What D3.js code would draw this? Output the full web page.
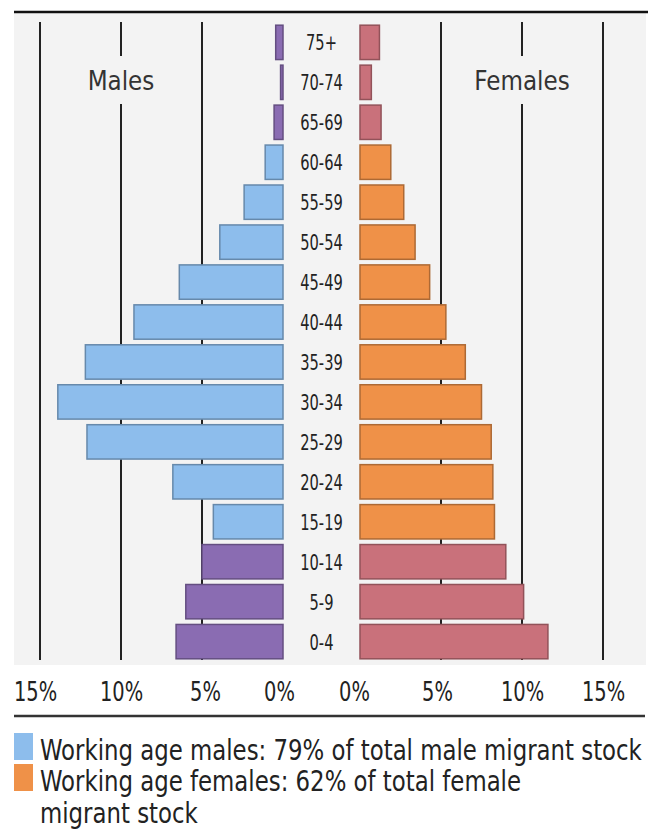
<!DOCTYPE html>
<html lang="en">
<head>
  <meta charset="UTF-8">
  <title>Migrant stock by age and sex</title>
  <style>
    body {
      margin: 0;
      background: #fff;
      font-family: 'Liberation Sans Narrow', 'DejaVu Sans Condensed', 'Roboto', sans-serif;
    }
    .age { font-size: 22px; fill: #222; text-anchor: middle; }
    .side { font-size: 27px; fill: #333; text-anchor: middle; }
    .tick text { font-size: 27px; fill: #222; font-family: 'Liberation Sans Narrow', 'DejaVu Sans Condensed', sans-serif; }
    .legend { font-size: 28px; fill: #222; }
    .grid { stroke: #222; stroke-width: 2px; }
    .bar { stroke-width: 1.5px; }
  </style>
  <script src="https://d3js.org/d3.v7.min.js"></script>
</head>
<body>
<svg width="648" height="840"></svg>
<script>
  const ages = ['75+', '70-74', '65-69', '60-64', '55-59', '50-54', '45-49', '40-44',
    '35-39', '30-34', '25-29', '20-24', '15-19', '10-14', '5-9', '0-4'];
  const males = [0.45, 0.15, 0.55, 1.1, 2.4, 3.9, 6.4, 9.2, 12.2, 13.9, 12.1, 6.8, 4.3, 5.0, 6.0, 6.6];
  const females = [1.2, 0.7, 1.3, 1.9, 2.7, 3.4, 4.3, 5.3, 6.5, 7.5, 8.1, 8.2, 8.3, 9.0, 10.1, 11.6];
  const working = ['15-19', '20-24', '25-29', '30-34', '35-39', '40-44', '45-49', '50-54', '55-59', '60-64'];
  const pctTicks = [0, 5, 10, 15];
  const legendLines = [
    ['Working age males: 79% of total male migrant stock'],
    ['Working age females: 62% of total female', 'migrant stock']
  ];

  const svg = d3.select('svg');

  const xL = d3.scaleLinear().domain([0, 15]).range([283, 40]);
  const xR = d3.scaleLinear().domain([0, 15]).range([360, 603]);
  const y = d3.scaleBand().domain(ages).range([24, 660]).paddingInner(0.14).paddingOuter(0.03);

  const colour = {
    mWork: '#8dbdec', mOther: '#8a6cb2',
    fWork: '#ef9148', fOther: '#c9717b'
  };
  const strokeOf = c => d3.color(c).darker(0.9);

  // squeeze text horizontally, the original uses a condensed face
  function condense(sel, k) {
    sel.each(function () {
      const w = this.getComputedTextLength();
      d3.select(this).attr('textLength', w * k).attr('lengthAdjust', 'spacingAndGlyphs');
    });
  }

  // plot background + top rule
  svg.append('rect').attr('x', 14).attr('y', 13).attr('width', 632).attr('height', 652).attr('fill', '#f3f3f3');
  svg.append('line').attr('x1', 14).attr('x2', 648).attr('y1', 12).attr('y2', 12)
    .attr('stroke', '#111').attr('stroke-width', 2.5);

  // gridlines (with gaps behind the side titles)
  const grid = svg.append('g');
  const gridSeg = (x, gap) => {
    const segs = gap ? [[22, 56], [104, 660]] : [[22, 660]];
    segs.forEach(s => grid.append('line').attr('class', 'grid')
      .attr('x1', x).attr('x2', x).attr('y1', s[0]).attr('y2', s[1]));
  };
  pctTicks.filter(t => t > 0).forEach(t => {
    gridSeg(xL(t), t === 10);
    gridSeg(xR(t), t === 10);
  });

  const sides = svg.append('g');
  sides.append('text').attr('class', 'side').attr('x', xL(10)).attr('y', 90).text('Males');
  sides.append('text').attr('class', 'side').attr('x', xR(10)).attr('y', 90).text('Females');
  condense(sides.selectAll('text'), 0.95);

  // bars
  const rows = ages.map((a, i) => ({ age: a, m: males[i], f: females[i], work: working.includes(a) }));

  svg.append('g').selectAll('rect').data(rows).join('rect')
    .attr('class', 'bar')
    .attr('x', d => xL(d.m)).attr('width', d => xL(0) - xL(d.m))
    .attr('y', d => y(d.age)).attr('height', y.bandwidth())
    .attr('fill', d => d.work ? colour.mWork : colour.mOther)
    .attr('stroke', d => strokeOf(d.work ? colour.mWork : colour.mOther));

  svg.append('g').selectAll('rect').data(rows).join('rect')
    .attr('class', 'bar')
    .attr('x', xR(0)).attr('width', d => xR(d.f) - xR(0))
    .attr('y', d => y(d.age)).attr('height', y.bandwidth())
    .attr('fill', d => d.work ? colour.fWork : colour.fOther)
    .attr('stroke', d => strokeOf(d.work ? colour.fWork : colour.fOther));

  const ageText = svg.append('g').selectAll('text').data(rows).join('text')
    .attr('class', 'age')
    .attr('x', (xL(0) + xR(0)) / 2)
    .attr('y', d => y(d.age) + y.bandwidth() / 2 + 8)
    .text(d => d.age);
  condense(ageText, 0.74);

  // axes
  const axL = svg.append('g').attr('transform', 'translate(0,672)')
    .call(d3.axisBottom(xL).tickValues(pctTicks).tickSize(0).tickPadding(10).tickFormat(d => d + '%'));
  const axR = svg.append('g').attr('transform', 'translate(0,672)')
    .call(d3.axisBottom(xR).tickValues(pctTicks).tickSize(0).tickPadding(10).tickFormat(d => d + '%'));
  [axL, axR].forEach(a => a.select('.domain').remove());
  axL.selectAll('.tick text').attr('dx', d => d === 15 ? -5 : d === 0 ? -4 : d === 5 ? 3 : 0);
  axR.selectAll('.tick text').attr('dx', d => d === 0 ? -6 : d === 5 ? -4 : 0);
  condense(svg.selectAll('.tick text'), 0.8);

  svg.append('line').attr('x1', 14).attr('x2', 645).attr('y1', 716).attr('y2', 716)
    .attr('stroke', '#333').attr('stroke-width', 2.5);

  // legend: text squeezed with a transform so the first line spans the width
  const leg = svg.append('g');
  const legText = [];
  [colour.mWork, colour.fWork].forEach((c, i) => {
    leg.append('rect').attr('x', 14).attr('y', 733 + i * 31).attr('width', 19).attr('height', 27)
      .attr('fill', c);
    legendLines[i].forEach((t, j) => {
      legText.push(leg.append('text').attr('class', 'legend')
        .attr('data-y', 760 + i * 31 + j * 32).text(t));
    });
  });
  const k = 602 / legText[0].node().getComputedTextLength();
  legText.forEach(t => t.attr('transform', `translate(40,${t.attr('data-y')}) scale(${k},1)`));
</script>
</body>
</html>
